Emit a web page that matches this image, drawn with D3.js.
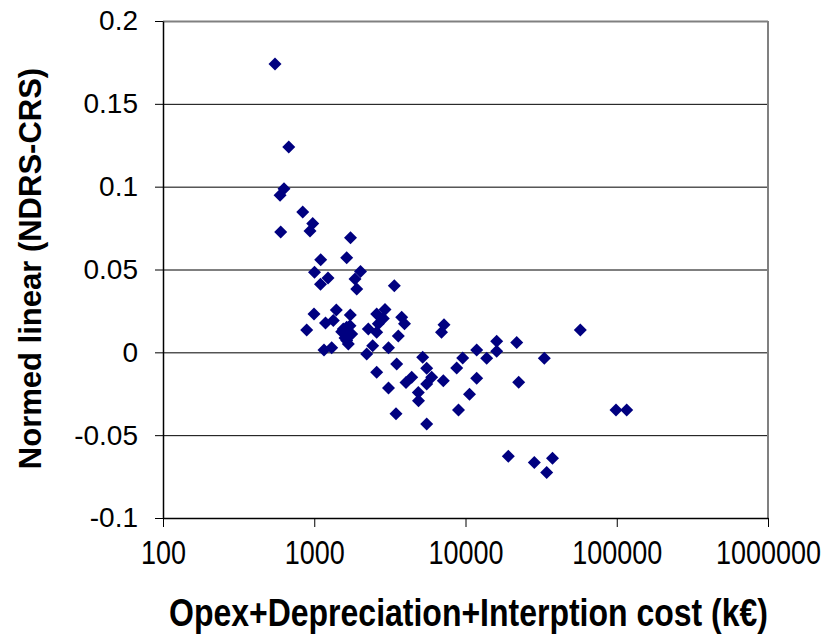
<!DOCTYPE html>
<html lang="en">
<head>
    <meta charset="UTF-8">
    <title>Normed linear vs cost</title>
    <script src="https://d3js.org/d3.v7.min.js"></script>
    <style>
        body { margin: 0; background: #fff; }
        text { font-family: "Liberation Sans", Arial, sans-serif; }
    </style>
</head>
<body>
    <div id="chart"></div>

    <script>
        // Cost values (k€)
        const costValues = [
            550, 678, 631, 594, 839, 977, 937, 600, 1737, 1103,
            1639, 1004, 1233, 1100, 2022, 1859, 1909, 3382, 996, 1399,
            1187, 1337, 891, 1731, 1639, 1556, 1519, 1768, 1597, 1680,
            1160, 1304, 2588, 2936, 2861, 2651, 2277, 2588, 3786, 3951,
            3595, 2434, 2222, 3097, 3509, 2588, 3097, 3472, 5540, 5212,
            5540, 5977, 4410, 4042, 4875, 4890, 7133, 7210, 6940, 9583,
            8746, 10627, 8988, 57410, 16080, 21810, 11862, 16080, 13810, 33190,
            11862, 22480, 98860, 116370, 19190, 28500, 37600, 34430, 5540, 1723,
            1639
        ];

        // Normed linear (NDRS-CRS) values, same order
        const normedValues = [
            0.174, 0.124, 0.0988, 0.0948, 0.0847, 0.0778, 0.0733, 0.0726, 0.0691, 0.0559,
            0.0571, 0.0484, 0.0449, 0.0411, 0.0488, 0.0443, 0.0383, 0.0402, 0.0231, 0.0255,
            0.0177, 0.0192, 0.0135, 0.0225, 0.0151, 0.0141, 0.0125, 0.0111, 0.0087, 0.0051,
            0.0014, 0.0027, 0.0232, 0.0258, 0.0204, 0.0172, 0.0141, 0.0121, 0.0212, 0.0172,
            0.0098, 0.0040, -0.0010, 0.0027, -0.0071, -0.0120, -0.0215, -0.0371, -0.0433, -0.0030,
            -0.0096, -0.0151, -0.0151, -0.0182, -0.0242, -0.0292, -0.0171, 0.0167, 0.0121, -0.0034,
            -0.0094, -0.0253, -0.0348, 0.0135, 0.0067, 0.0060, 0.0014, 0.0007, -0.0036, -0.0036,
            -0.0156, -0.0180, -0.0348, -0.0348, -0.0627, -0.0665, -0.0639, -0.0726, -0.0191, 0.0161,
            0.0071
        ];

        const xTicks = [100, 1000, 10000, 100000, 1000000];
        const yTicks = [-0.1, -0.05, 0, 0.05, 0.1, 0.15, 0.2];
        const yTickLabels = ["-0.1", "-0.05", "0", "0.05", "0.1", "0.15", "0.2"];

        const points = costValues.map((c, i) => ({ cost: c, value: normedValues[i] }));

        // Dimensions and margins
        const margin = { top: 21, right: 67, bottom: 121, left: 163 },
            width = 835 - margin.left - margin.right,
            height = 639 - margin.top - margin.bottom;

        const svg = d3.select("#chart")
            .append("svg")
            .attr("width", 835)
            .attr("height", 639);

        const g = svg.append("g")
            .attr("transform", `translate(${margin.left}, ${margin.top})`);

        // Scales
        const x = d3.scaleLog()
            .domain([100, 1000000])
            .range([0, width]);

        const y = d3.scaleLinear()
            .domain([-0.1, 0.2])
            .range([height, 0]);

        // Horizontal gridlines
        g.selectAll(".grid")
            .data(yTicks.filter(t => t !== -0.1 && t !== 0.2))
            .join("line")
            .attr("class", "grid")
            .attr("x1", 0)
            .attr("x2", width)
            .attr("y1", d => y(d) + 0.5)
            .attr("y2", d => y(d) + 0.5)
            .attr("stroke", "#000")
            .attr("stroke-width", 1);

        // Plot border on top and right (grey)
        g.append("line")
            .attr("x1", 0).attr("x2", width)
            .attr("y1", 0.5).attr("y2", 0.5)
            .attr("stroke", "#808080").attr("stroke-width", 2);
        g.append("line")
            .attr("x1", width).attr("x2", width)
            .attr("y1", 0).attr("y2", height)
            .attr("stroke", "#808080").attr("stroke-width", 2);

        // Axes
        const xAxis = g.append("g")
            .attr("transform", `translate(0, ${height})`)
            .call(d3.axisBottom(x)
                .tickValues(xTicks)
                .tickFormat(d3.format("d"))
                .tickSize(9)
                .tickSizeOuter(0)
                .tickPadding(12));

        const yAxis = g.append("g")
            .call(d3.axisLeft(y)
                .tickValues(yTicks)
                .tickFormat((d, i) => yTickLabels[i])
                .tickSize(8)
                .tickSizeOuter(0)
                .tickPadding(17));

        [xAxis, yAxis].forEach(a => {
            a.select(".domain").attr("stroke", "#000").attr("stroke-width", 1.5);
            a.selectAll(".tick line").attr("stroke", "#000");
            a.selectAll(".tick text")
                .attr("fill", "#000")
                .style("font-size", "27px")
                .style("font-family", "'Liberation Sans', Arial, sans-serif");
        });
        yAxis.selectAll(".tick text").style("font-size", "28px");

        // slightly taller x labels, like the reference
        xAxis.selectAll(".tick text")
            .attr("y", 0)
            .attr("dy", 0)
            .attr("transform", "translate(0, 46) scale(1, 1.2)");

        // Diamond markers
        const diamond = "M0,-6.5L6.5,0L0,6.5L-6.5,0Z";
        g.selectAll(".pt")
            .data(points)
            .join("path")
            .attr("class", "pt")
            .attr("d", diamond)
            .attr("transform", d => `translate(${x(d.cost)}, ${y(d.value)})`)
            .attr("fill", "#000080");

        // Axis titles
        svg.append("text")
            .attr("transform", `translate(${margin.left + width / 2 + 3}, 626) scale(1, 1.2)`)
            .attr("text-anchor", "middle")
            .style("font-size", "32px")
            .style("font-weight", "bold")
            .text("Opex+Depreciation+Interption cost (k€)");

        svg.append("text")
            .attr("transform", `translate(41, ${margin.top + height / 2 - 1}) rotate(-90)`)
            .attr("text-anchor", "middle")
            .style("font-size", "31px")
            .style("font-weight", "bold")
            .text("Normed linear (NDRS-CRS)");
    </script>
</body>
</html>
